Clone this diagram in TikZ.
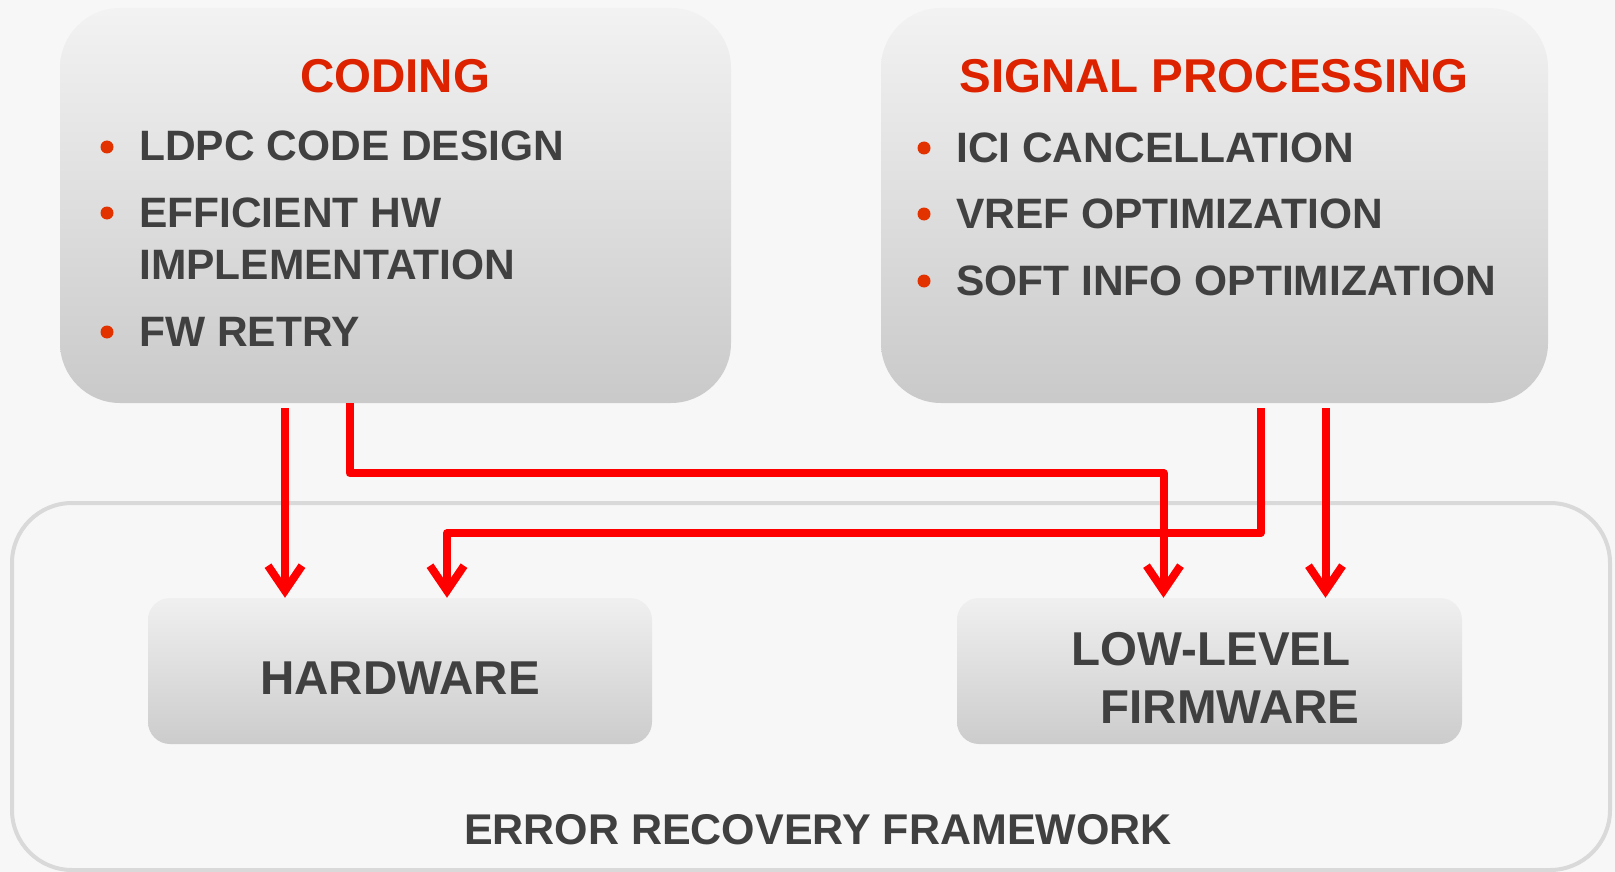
\documentclass[tikz,border=0pt]{standalone}
\usepackage{fontspec}
\setmainfont{Liberation Sans}
\usetikzlibrary{arrows.meta}
\definecolor{paper}{HTML}{F7F7F7}
\definecolor{titlered}{HTML}{DD2200}
\definecolor{dotred}{HTML}{E23200}
\definecolor{ink}{HTML}{404040}
\definecolor{rim}{HTML}{D9D9D9}
\tikzset{
  panel/.style={rounded corners=60pt, top color=white!95!black, bottom color=white!79!black,
    draw=none, inner sep=0pt, minimum height=395pt},
  unit/.style={rounded corners=22pt, top color=white!94!black, bottom color=white!80!black,
    draw=none, inner sep=0pt, minimum height=146pt},
  unittext/.style={inner sep=0pt, text=ink, align=center,
    font=\bfseries\fontsize{47.5}{58.5}\selectfont},
  heading/.style={inner sep=0pt, text=titlered, font=\bfseries\fontsize{47.5}{56}\selectfont},
  item/.style={anchor=west, inner sep=0pt, text=ink, align=left,
    font=\bfseries\fontsize{42.5}{52}\selectfont},
  dot/.style={circle, fill=dotred, inner sep=0pt, minimum size=13pt},
  flow/.style={draw=red, line width=8pt, line join=round,
    -{Straight Barb[length=25pt, width=34pt]}}
}
\begin{document}
\begin{tikzpicture}[x=1pt, y=-1pt]
  \fill[paper] (0,0) rectangle (1615,872);
  \useasboundingbox (0,0) rectangle (1615,872);
  \node[draw=rim, line width=4pt, rounded corners=60pt, minimum width=1598pt, minimum height=367pt] (frame) at (811,686.5) {};
  \node[item, anchor=center, font=\bfseries\fontsize{43}{52}\selectfont] (frametitle) at (818,830) {ERROR RECOVERY FRAMEWORK};

  \node[panel, minimum width=671pt] (coding) at (395.5,205.5) {};
  \node[heading] (codingtitle) at (395,76) {CODING};
  \node[dot] (cd1) at (107,147) {};
  \node[item] (ci1) at (139,146) {LDPC CODE DESIGN};
  \node[dot] (cd2) at (107,213) {};
  \node[item] (ci2) at (139,239) {EFFICIENT HW\\IMPLEMENTATION};
  \node[dot] (cd3) at (107,332) {};
  \node[item] (ci3) at (139,332) {FW RETRY};

  \node[panel, minimum width=667pt] (signal) at (1214.5,205.5) {};
  \node[heading] (signaltitle) at (1214,76) {SIGNAL PROCESSING};
  \node[dot] (sd1) at (924,148) {};
  \node[item] (si1) at (956,148) {ICI CANCELLATION};
  \node[dot] (sd2) at (924,214) {};
  \node[item] (si2) at (956,214) {VREF OPTIMIZATION};
  \node[dot] (sd3) at (924,281) {};
  \node[item] (si3) at (956,281) {SOFT INFO OPTIMIZATION};

  \node[unit, minimum width=504pt] (hw) at (400,671) {};
  \node[unittext] (hwtext) at (400,678) {HARDWARE};
  \node[unit, minimum width=505pt] (fw) at (1209.5,671) {};
  \node[unittext] (fwtext) at (1211,678) {LOW-LEVEL\\\hspace*{38pt}FIRMWARE};

  \coordinate (hwin1) at ([xshift=-115pt]hw.north);
  \coordinate (hwin2) at ([xshift=47pt]hw.north);
  \coordinate (fwin1) at ([xshift=-46pt]fw.north);
  \coordinate (fwin2) at ([xshift=116pt]fw.north);

  \draw[flow] ([yshift=-5pt]coding.south -| hwin1) -- (hwin1);
  \draw[flow] ([xshift=-46pt]coding.south) -- ++(0,70) -| (fwin1);
  \draw[flow] ([xshift=46pt, yshift=-5pt]signal.south) -- ++(0,125) -| (hwin2);
  \draw[flow] ([yshift=-5pt]signal.south -| fwin2) -- (fwin2);
\end{tikzpicture}
\end{document}
